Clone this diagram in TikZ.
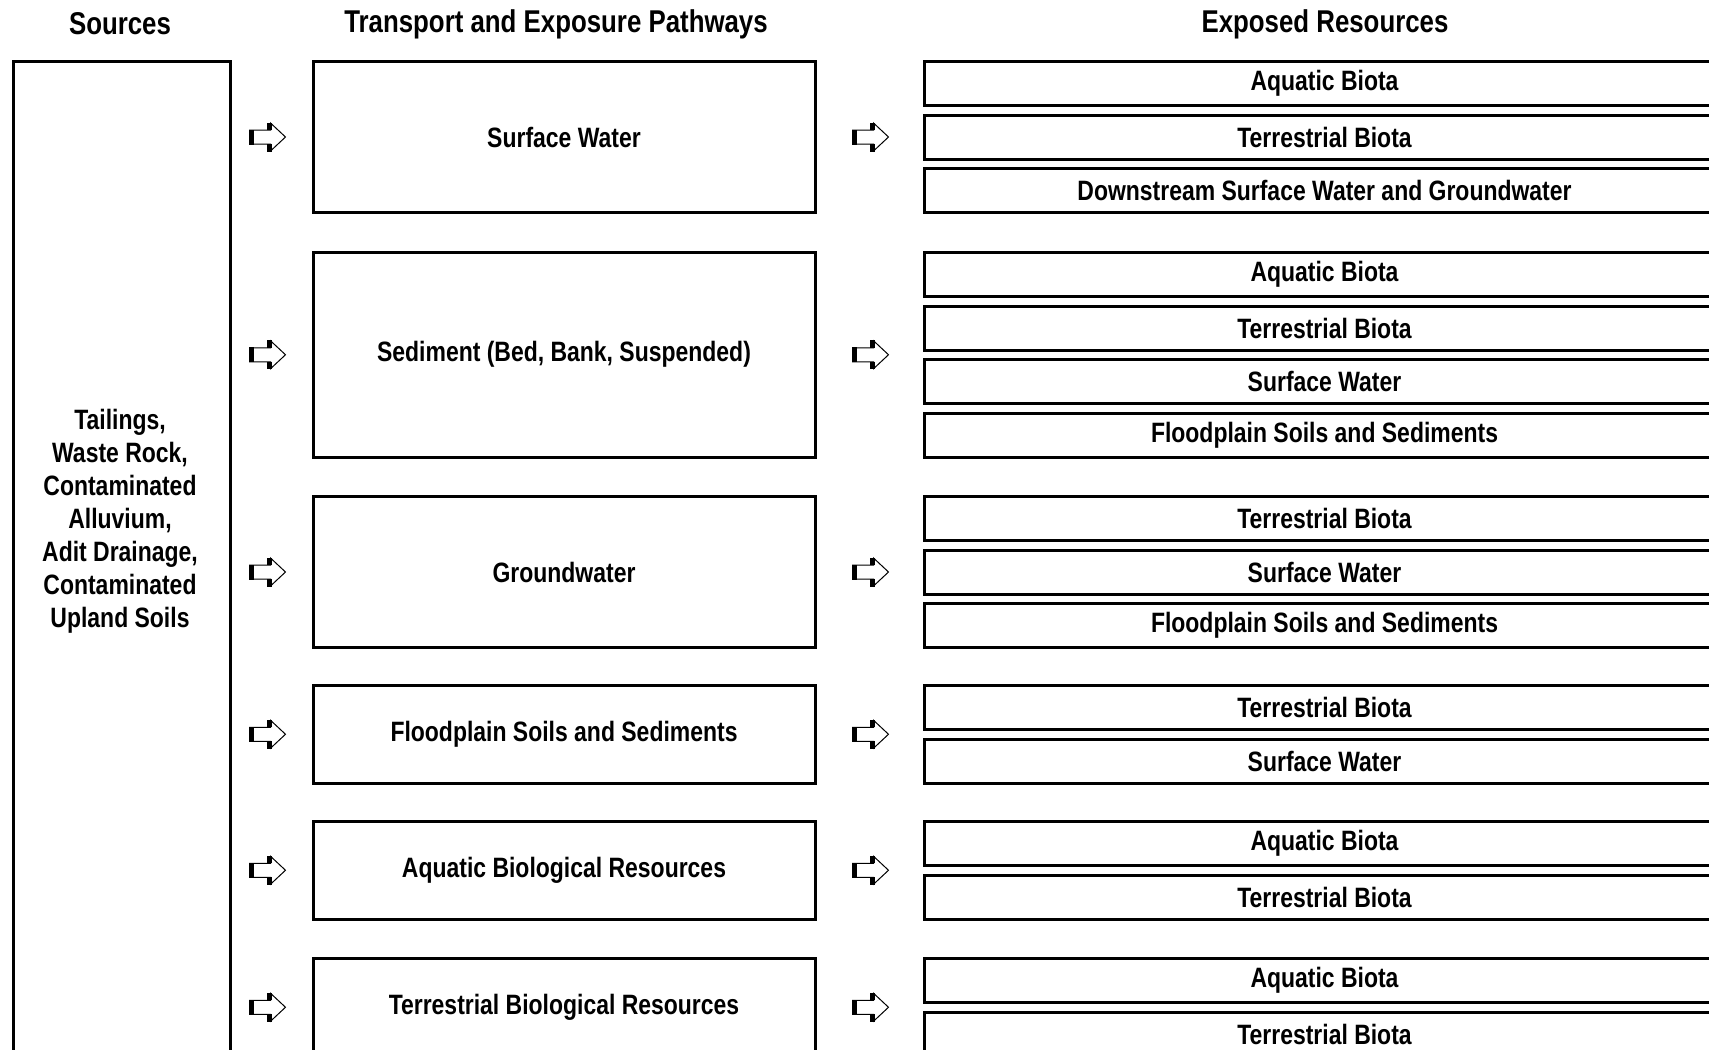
\documentclass[tikz,border=0pt]{standalone}
\usepackage{fontspec}
\setmainfont{Liberation Sans}[FakeStretch=0.82]
\usetikzlibrary{positioning}

\begin{document}
\begin{tikzpicture}
	[x=1pt,y=-1pt,line width=3pt,
	head/.style={font=\fontsize{31.5}{36}\selectfont\bfseries},
	txt/.style={align=center,font=\fontsize{28}{33}\selectfont\bfseries},
	srcbox/.style={draw,minimum width=216.5,minimum height=1100},
	pathbox/.style={draw,minimum width=502,txt},
	resbox/.style={draw,minimum width=800,minimum height=44,txt},
	pics/hollowarrow/.style={code={
		\draw[line width=1pt,fill=white] (-18,-7) -- (3,-7) -- (3,-14) -- (18,0) -- (3,14) -- (3,7) -- (-18,7) -- cycle;
		\fill (-18.5,-7.5) rectangle (-13.5,7.5);
		\fill (-1,-14.5) rectangle (4,-7);
		\fill (-1,7) rectangle (4,14.5);
	}}]
	\useasboundingbox (0,0) rectangle (1709,1050);
	\clip (0,0) rectangle (1709,1050);

	% column headings
	\node[head] (hsrc) at (120,24) {Sources};
	\node[head] (hpath) at (556,24) {Transport and Exposure Pathways};
	\node[head] (hres) at (1325,24) {Exposed Resources};

	% sources
	\node[srcbox] (src) at (121.75,611.5) {};
	\node[txt] (srctext) at (120,521) {Tailings,\\Waste Rock,\\Contaminated\\Alluvium,\\Adit Drainage,\\Contaminated\\Upland Soils};

	% pathways
	\foreach \name/\y/\h/\text in {sw/137/151/Surface Water,
		sed/354.75/204.5/{Sediment (Bed, Bank, Suspended)},
		gw/572/151/Groundwater,
		fp/734.25/97.5/Floodplain Soils and Sediments,
		abr/870.25/97.5/Aquatic Biological Resources,
		tbr/1007.25/97.5/Terrestrial Biological Resources}
	{
		\node[pathbox,minimum height=\h] (\name) at (564,\y) {\text};
		\pic at ([xshift=-44]\name.west) {hollowarrow};
		\pic at ([xshift=54]\name.east) {hollowarrow};
	}

	% exposed resources
	\foreach \name/\y/\text in {swa/83.5/Aquatic Biota, swb/137/Terrestrial Biota,
		swc/190.5/Downstream Surface Water and Groundwater,
		seda/274.5/Aquatic Biota, sedb/328/Terrestrial Biota,
		sedc/381.5/Surface Water, sedd/435/Floodplain Soils and Sediments,
		gwa/518.5/Terrestrial Biota, gwb/572/Surface Water,
		gwc/625.5/Floodplain Soils and Sediments,
		fpa/707.5/Terrestrial Biota, fpb/761/Surface Water,
		abra/843.5/Aquatic Biota, abrb/897/Terrestrial Biota,
		tbra/980.5/Aquatic Biota, tbrb/1034/Terrestrial Biota}
	\node[resbox] (\name) at (1324.5,\y) {\text};
\end{tikzpicture}
\end{document}
